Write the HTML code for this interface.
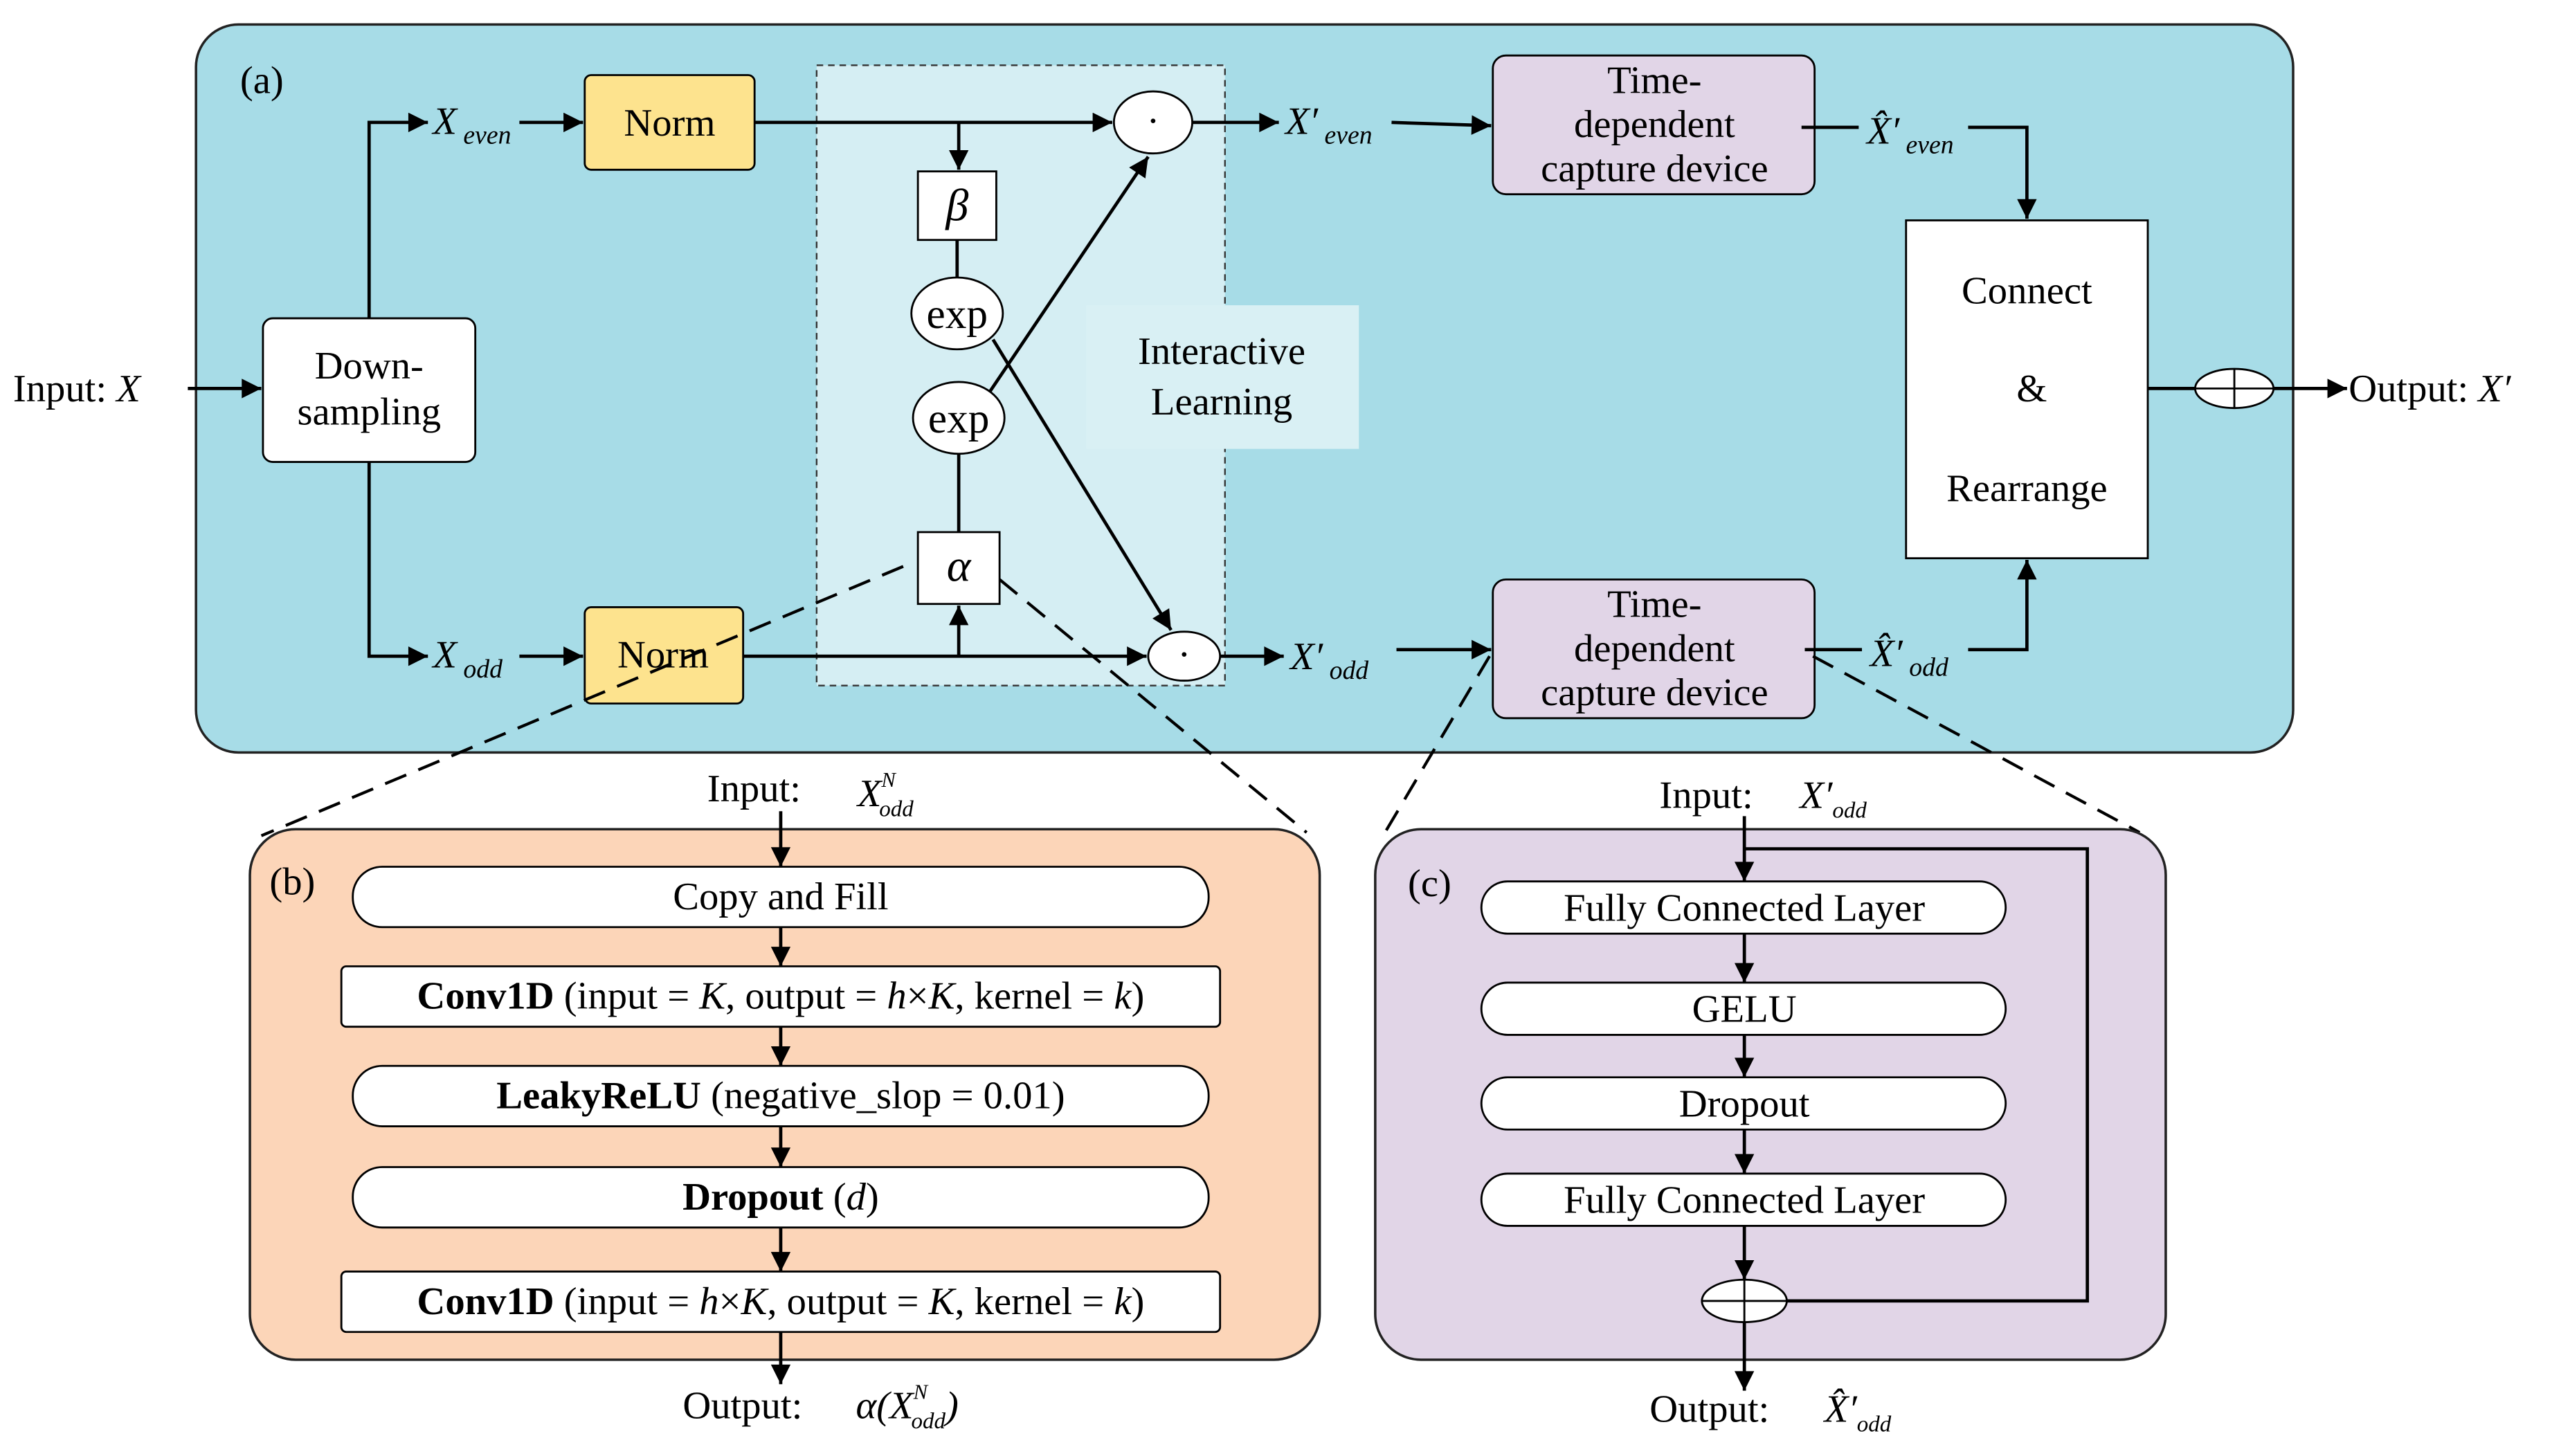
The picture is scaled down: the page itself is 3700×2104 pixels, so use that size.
<!DOCTYPE html>
<html><head><meta charset="utf-8">
<style>
html,body{margin:0;padding:0;background:#fff;}
svg{display:block;}
text{font-family:"Liberation Serif",serif;fill:#000;}
</style></head>
<body>
<svg width="3700" height="2104" viewBox="0 0 1568 892" preserveAspectRatio="none" xmlns="http://www.w3.org/2000/svg">
<defs>
<marker id="a2" viewBox="0 0 10 10" refX="10" refY="5" markerWidth="14" markerHeight="12" orient="auto" markerUnits="userSpaceOnUse">
<path d="M0,0 L10,5 L0,10 z" fill="#000"/></marker>
</defs>
<g stroke="#000" stroke-width="2" fill="none">
<rect x="120" y="15" width="1284" height="446" rx="26" fill="#a7dce7" stroke="#222" stroke-width="1.5"/>
<rect x="500" y="40" width="250" height="380" fill="#d5eef3" stroke="#333" stroke-width="1" stroke-dasharray="4,3"/>
<rect x="665" y="187" width="167" height="88" fill="#d9f0f4" stroke="none"/>
<rect x="161" y="195" width="130" height="88" rx="6" fill="#fff" stroke-width="1.2"/>
<rect x="358" y="46" width="104" height="58" rx="4" fill="#fde38e" stroke-width="1.2"/>
<rect x="358" y="372" width="97" height="59" rx="4" fill="#fde38e" stroke-width="1.2"/>
<rect x="914" y="34" width="197" height="85" rx="8" fill="#e1d5e7" stroke-width="1.2"/>
<rect x="914" y="355" width="197" height="85" rx="8" fill="#e1d5e7" stroke-width="1.2"/>
<rect x="1167" y="135" width="148" height="207" fill="#fff" stroke-width="1.2"/>
<rect x="562" y="105" width="48" height="42" fill="#fff" stroke-width="1.2"/>
<rect x="562" y="326" width="50" height="44" fill="#fff" stroke-width="1.2"/>
<ellipse cx="586" cy="192" rx="28" ry="22" fill="#fff" stroke-width="1.2"/>
<ellipse cx="587" cy="256" rx="28" ry="22" fill="#fff" stroke-width="1.2"/>
<ellipse cx="706" cy="75" rx="24" ry="19" fill="#fff" stroke-width="1.2"/>
<ellipse cx="725" cy="402" rx="22" ry="15" fill="#fff" stroke-width="1.2"/>
<ellipse cx="1368" cy="238" rx="24" ry="12" fill="#fff" stroke-width="1.2"/>
<line x1="1344" y1="238" x2="1392" y2="238" stroke-width="1.2"/><line x1="1368" y1="226" x2="1368" y2="250" stroke-width="1.2"/>

<line x1="115" y1="238" x2="160" y2="238" marker-end="url(#a2)"/>
<polyline points="226,195 226,75 262,75" marker-end="url(#a2)"/>
<polyline points="226,283 226,402 262,402" marker-end="url(#a2)"/>
<line x1="318" y1="75" x2="357" y2="75" marker-end="url(#a2)"/>
<line x1="318" y1="402" x2="357" y2="402" marker-end="url(#a2)"/>
<line x1="462" y1="75" x2="681" y2="75" marker-end="url(#a2)"/>
<line x1="587" y1="75" x2="587" y2="104" marker-end="url(#a2)"/>
<line x1="586" y1="147" x2="586" y2="170"/>
<line x1="587" y1="278" x2="587" y2="326"/>
<line x1="455" y1="402" x2="702" y2="402" marker-end="url(#a2)"/>
<line x1="587" y1="402" x2="587" y2="371" marker-end="url(#a2)"/>
<line x1="608" y1="208" x2="717" y2="386" marker-end="url(#a2)"/>
<line x1="606" y1="240" x2="703" y2="96" marker-end="url(#a2)"/>
<line x1="730" y1="75" x2="783" y2="75" marker-end="url(#a2)"/>
<line x1="747" y1="402" x2="786" y2="402" marker-end="url(#a2)"/>
<line x1="852" y1="75" x2="913" y2="77" marker-end="url(#a2)"/>
<line x1="855" y1="398" x2="913" y2="398" marker-end="url(#a2)"/>
<line x1="1103" y1="78" x2="1138" y2="78"/>
<polyline points="1205,78 1241,78 1241,134" marker-end="url(#a2)"/>
<line x1="1105" y1="398" x2="1140" y2="398"/>
<polyline points="1205,398 1241,398 1241,343" marker-end="url(#a2)"/>
<line x1="1315" y1="238" x2="1344" y2="238"/>
<line x1="1392" y1="238" x2="1437" y2="238" marker-end="url(#a2)"/>

<g stroke-dasharray="14,8" stroke-width="1.8">
<line x1="553" y1="347" x2="160" y2="512"/>
<line x1="612" y1="355" x2="800" y2="510"/>
<line x1="912" y1="402" x2="845" y2="515"/>
<line x1="1110" y1="402" x2="1310" y2="510"/>
</g>

<rect x="153" y="508" width="655" height="325" rx="28" fill="#fcd5b8" stroke="#222" stroke-width="1.5"/>
<rect x="216" y="531" width="524" height="37" rx="18" fill="#fff" stroke-width="1.2"/>
<rect x="209" y="592" width="538" height="37" rx="3" fill="#fff" stroke-width="1.2"/>
<rect x="216" y="653" width="524" height="37" rx="18" fill="#fff" stroke-width="1.2"/>
<rect x="216" y="715" width="524" height="37" rx="18" fill="#fff" stroke-width="1.2"/>
<rect x="209" y="779" width="538" height="37" rx="3" fill="#fff" stroke-width="1.2"/>
<line x1="478" y1="497" x2="478" y2="531" marker-end="url(#a2)"/>
<line x1="478" y1="568" x2="478" y2="592" marker-end="url(#a2)"/>
<line x1="478" y1="629" x2="478" y2="653" marker-end="url(#a2)"/>
<line x1="478" y1="690" x2="478" y2="715" marker-end="url(#a2)"/>
<line x1="478" y1="752" x2="478" y2="779" marker-end="url(#a2)"/>
<line x1="478" y1="816" x2="478" y2="848" marker-end="url(#a2)"/>

<rect x="842" y="508" width="484" height="325" rx="28" fill="#e1d5e7" stroke="#222" stroke-width="1.5"/>
<rect x="907" y="540" width="321" height="32" rx="16" fill="#fff" stroke-width="1.2"/>
<rect x="907" y="602" width="321" height="32" rx="16" fill="#fff" stroke-width="1.2"/>
<rect x="907" y="660" width="321" height="32" rx="16" fill="#fff" stroke-width="1.2"/>
<rect x="907" y="719" width="321" height="32" rx="16" fill="#fff" stroke-width="1.2"/>
<ellipse cx="1068" cy="797" rx="26" ry="13" fill="#fff" stroke-width="1.2"/>
<line x1="1042" y1="797" x2="1094" y2="797" stroke-width="1.2"/><line x1="1068" y1="784" x2="1068" y2="810" stroke-width="1.2"/>
<line x1="1068" y1="500" x2="1068" y2="540" marker-end="url(#a2)"/>
<polyline points="1068,520 1278,520 1278,797 1094,797"/>
<line x1="1068" y1="572" x2="1068" y2="602" marker-end="url(#a2)"/>
<line x1="1068" y1="634" x2="1068" y2="660" marker-end="url(#a2)"/>
<line x1="1068" y1="692" x2="1068" y2="719" marker-end="url(#a2)"/>
<line x1="1068" y1="751" x2="1068" y2="784" marker-end="url(#a2)"/>
<line x1="1068" y1="810" x2="1068" y2="852" marker-end="url(#a2)"/>
</g>

<g font-size="24">
<text x="147" y="57">(a)</text>
<text x="8" y="246">Input: <tspan font-style="italic">X</tspan></text>
<text x="226" y="232" text-anchor="middle">Down-</text>
<text x="226" y="260" text-anchor="middle">sampling</text>
<text x="265" y="82" font-style="italic">X<tspan font-size="16" dy="6"> even</tspan></text>
<text x="265" y="409" font-style="italic">X<tspan font-size="16" dy="6"> odd</tspan></text>
<text x="410" y="83" text-anchor="middle">Norm</text>
<text x="406" y="409" text-anchor="middle">Norm</text>
<text x="586" y="135" text-anchor="middle" font-style="italic" font-size="28">β</text>
<text x="587" y="356" text-anchor="middle" font-style="italic" font-size="28">α</text>
<text x="586" y="201" text-anchor="middle" font-size="26">exp</text>
<text x="587" y="265" text-anchor="middle" font-size="26">exp</text>
<text x="706" y="82" text-anchor="middle">·</text>
<text x="725" y="409" text-anchor="middle">·</text>
<text x="748" y="223" text-anchor="middle">Interactive</text>
<text x="748" y="254" text-anchor="middle">Learning</text>
<text x="787" y="82" font-style="italic">X′<tspan font-size="16" dy="6"> even</tspan></text>
<text x="790" y="410" font-style="italic">X′<tspan font-size="16" dy="6"> odd</tspan></text>
<text x="1013" y="57" text-anchor="middle">Time-</text>
<text x="1013" y="84" text-anchor="middle">dependent</text>
<text x="1013" y="111" text-anchor="middle">capture device</text>
<text x="1013" y="378" text-anchor="middle">Time-</text>
<text x="1013" y="405" text-anchor="middle">dependent</text>
<text x="1013" y="432" text-anchor="middle">capture device</text>
<text x="1143" y="88" font-style="italic">X̂′<tspan font-size="16" dy="6"> even</tspan></text>
<text x="1145" y="408" font-style="italic">X̂′<tspan font-size="16" dy="6"> odd</tspan></text>
<text x="1241" y="186" text-anchor="middle">Connect</text>
<text x="1244" y="246" text-anchor="middle">&amp;</text>
<text x="1241" y="307" text-anchor="middle">Rearrange</text>
<text x="1438" y="246">Output: <tspan font-style="italic">X′</tspan></text>

<text x="165" y="548">(b)</text>
<text x="433" y="491">Input:</text>
<text x="525" y="494" font-style="italic">X<tspan font-size="13" dy="-12">N</tspan><tspan font-size="14" dx="-10" dy="18">odd</tspan></text>
<text x="478" y="557" text-anchor="middle">Copy and Fill</text>
<text x="478" y="618" text-anchor="middle"><tspan font-weight="bold">Conv1D</tspan> (input = <tspan font-style="italic">K</tspan>, output = <tspan font-style="italic">h</tspan>×<tspan font-style="italic">K</tspan>, kernel = <tspan font-style="italic">k</tspan>)</text>
<text x="478" y="679" text-anchor="middle"><tspan font-weight="bold">LeakyReLU</tspan> (negative_slop = 0.01)</text>
<text x="478" y="741" text-anchor="middle"><tspan font-weight="bold">Dropout</tspan> (<tspan font-style="italic">d</tspan>)</text>
<text x="478" y="805" text-anchor="middle"><tspan font-weight="bold">Conv1D</tspan> (input = <tspan font-style="italic">h</tspan>×<tspan font-style="italic">K</tspan>, output = <tspan font-style="italic">K</tspan>, kernel = <tspan font-style="italic">k</tspan>)</text>
<text x="418" y="869">Output:</text>
<text x="524" y="869" font-style="italic">α(X<tspan font-size="13" dy="-12">N</tspan><tspan font-size="14" dx="-10" dy="18">odd</tspan><tspan dy="-6">)</tspan></text>

<text x="862" y="549">(c)</text>
<text x="1016" y="495">Input:</text>
<text x="1102" y="495" font-style="italic">X′<tspan font-size="14" dy="6">odd</tspan></text>
<text x="1068" y="564" text-anchor="middle">Fully Connected Layer</text>
<text x="1068" y="626" text-anchor="middle">GELU</text>
<text x="1068" y="684" text-anchor="middle">Dropout</text>
<text x="1068" y="743" text-anchor="middle">Fully Connected Layer</text>
<text x="1010" y="871">Output:</text>
<text x="1117" y="871" font-style="italic">X̂′<tspan font-size="14" dy="6">odd</tspan></text>
</g>
</svg>
</body></html>
